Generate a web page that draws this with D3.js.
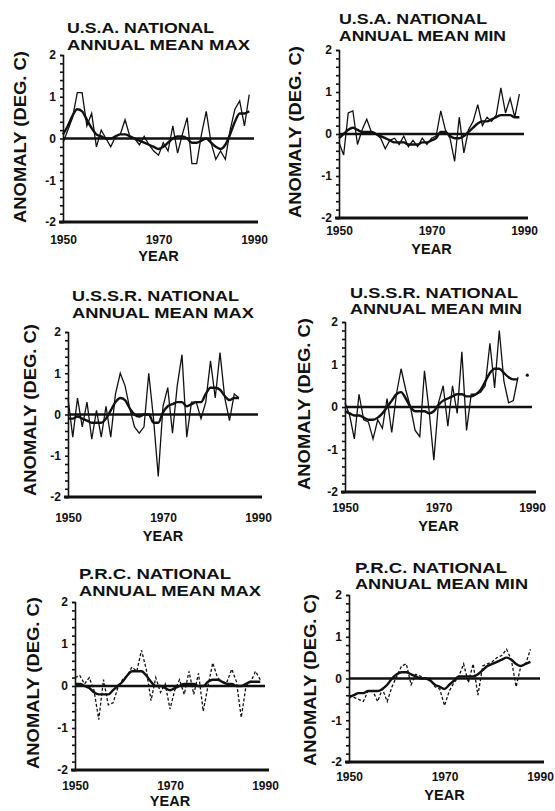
<!DOCTYPE html>
<html><head><meta charset="utf-8">
<script src="https://cdn.jsdelivr.net/npm/d3@7"></script>
<style>
body{margin:0;background:#fff;}
svg text{font-family:"Liberation Sans",Arial,sans-serif;fill:#111;}
</style></head>
<body><svg id="c" width="555" height="811"></svg>
<script>
const years = [1950,1951,1952,1953,1954,1955,1956,1957,1958,1959,1960,1961,1962,1963,1964,1965,1966,1967,1968,1969,1970,1971,1972,1973,1974,1975,1976,1977,1978,1979,1980,1981,1982,1983,1984,1985,1986,1987,1988,1989];
const yTicks = [-2,-1,0,1,2];
const xTicks = [1950,1970,1990];
const titles = [
  ["U.S.A. NATIONAL","ANNUAL MEAN MAX"],
  ["U.S.A. NATIONAL","ANNUAL MEAN MIN"],
  ["U.S.S.R. NATIONAL","ANNUAL MEAN MAX"],
  ["U.S.S.R. NATIONAL","ANNUAL MEAN MIN"],
  ["P.R.C. NATIONAL","ANNUAL MEAN MAX"],
  ["P.R.C. NATIONAL","ANNUAL MEAN MIN"]
];
const usaMaxRaw = [-0.1,0.2,0.5,1.1,1.1,0.3,0.6,-0.2,0.2,0.0,-0.2,0.05,0.1,0.45,0.05,0.0,-0.15,0.05,-0.15,-0.3,-0.4,-0.1,-0.3,0.3,-0.35,0.1,0.5,-0.6,-0.6,0.1,0.65,-0.1,-0.5,-0.3,-0.5,0.2,0.7,0.9,0.3,1.05];
const usaMaxSmooth = [0.1,0.3,0.55,0.7,0.65,0.45,0.25,0.1,0.05,0.0,0.0,0.05,0.1,0.1,0.05,0.0,-0.05,-0.1,-0.15,-0.2,-0.25,-0.2,-0.1,0.0,0.05,0.05,0.0,-0.1,-0.1,-0.05,0.0,-0.1,-0.2,-0.25,-0.15,0.1,0.4,0.6,0.6,0.65];
const usaMinRaw = [-0.2,-0.5,0.5,0.55,-0.25,0.1,0.35,0.05,0.0,-0.1,-0.35,-0.15,-0.1,-0.25,-0.05,-0.3,-0.15,-0.3,-0.1,-0.25,-0.1,-0.05,0.55,0.1,-0.1,-0.65,0.4,-0.45,0.1,0.3,0.7,0.2,0.4,0.3,0.45,1.1,0.5,0.85,0.4,0.95];
const usaMinSmooth = [-0.1,0.0,0.1,0.15,0.1,0.05,0.05,0.05,0.0,-0.05,-0.1,-0.15,-0.2,-0.2,-0.2,-0.25,-0.25,-0.25,-0.2,-0.2,-0.15,-0.1,0.05,0.05,-0.05,-0.1,-0.1,-0.05,0.05,0.15,0.25,0.3,0.3,0.35,0.4,0.45,0.45,0.45,0.4,0.4];
const ussrMaxRaw = [0.4,-0.55,0.4,-0.3,0.3,-0.6,0.1,-0.55,0.2,-0.55,0.5,1.0,0.7,0.15,-0.3,-0.45,-0.3,1.0,-0.1,-1.5,0.2,0.65,-0.45,0.7,1.45,-0.55,0.3,0.3,-0.1,0.3,1.3,0.4,1.5,0.4,-0.15,0.5,0.4,null,null,null];
const ussrMaxSmooth = [-0.1,-0.1,-0.05,-0.1,-0.15,-0.2,-0.2,-0.2,-0.1,0.1,0.3,0.4,0.35,0.15,0.0,-0.05,0.0,0.0,-0.2,-0.2,0.05,0.2,0.25,0.3,0.3,0.2,0.25,0.3,0.3,0.5,0.65,0.65,0.6,0.45,0.35,0.4,0.4,null,null,null];
const ussrMinRaw = [0.1,-0.2,-0.75,0.3,-0.3,-0.35,-0.75,-0.3,-0.5,0.2,-0.6,0.3,0.9,0.4,0.0,-0.55,-0.7,0.85,-0.1,-1.25,0.1,0.5,-0.45,0.5,-0.15,1.3,-0.55,0.3,0.3,0.35,0.5,1.5,0.45,1.8,0.6,0.1,0.15,0.7,null,0.75];
const ussrMinSmooth = [-0.1,-0.15,-0.2,-0.2,-0.25,-0.3,-0.3,-0.25,-0.15,0.0,0.15,0.3,0.35,0.2,0.0,-0.1,-0.1,-0.1,-0.15,-0.1,0.05,0.15,0.2,0.25,0.3,0.3,0.25,0.25,0.3,0.4,0.6,0.8,0.9,0.9,0.8,0.7,0.65,0.65,null,null];
const prcMaxRaw = [0.2,0.25,0.05,0.2,-0.1,-0.8,0.15,-0.45,-0.4,-0.05,0.15,0.25,0.45,0.35,0.85,0.4,-0.35,0.2,-0.15,0.05,-0.55,-0.1,0.15,-0.2,0.35,-0.2,0.3,-0.6,0.0,0.55,0.2,0.1,0.1,0.4,0.1,-0.75,0.0,0.1,0.35,0.15];
const prcMaxSmooth = [0.05,0.05,0.0,-0.05,-0.15,-0.2,-0.2,-0.2,-0.1,0.0,0.1,0.25,0.35,0.35,0.35,0.25,0.1,0.0,0.0,-0.05,-0.1,-0.05,0.0,0.05,0.05,0.05,0.0,0.0,0.1,0.15,0.15,0.1,0.05,0.05,0.0,0.0,0.05,0.1,0.1,0.1];
const prcMinRaw = [-0.4,-0.45,-0.5,-0.55,-0.3,-0.3,-0.55,-0.25,-0.55,-0.2,0.05,0.3,0.35,-0.15,0.1,0.05,0.0,0.0,-0.2,-0.25,-0.65,-0.3,-0.1,0.05,0.35,-0.1,0.35,-0.4,0.3,0.35,0.4,0.5,0.55,0.7,0.45,-0.2,0.3,0.35,0.7,null];
const prcMinSmooth = [-0.45,-0.4,-0.35,-0.35,-0.3,-0.3,-0.3,-0.25,-0.15,0.0,0.1,0.15,0.15,0.1,0.05,0.0,0.0,-0.05,-0.15,-0.2,-0.25,-0.15,-0.05,0.05,0.05,0.05,0.05,0.1,0.2,0.3,0.35,0.4,0.45,0.5,0.45,0.35,0.3,0.35,0.4,null];

const rawSeries = [usaMaxRaw,usaMinRaw,ussrMaxRaw,ussrMinRaw,prcMaxRaw,prcMinRaw];
const smoothSeries = [usaMaxSmooth,usaMinSmooth,ussrMaxSmooth,ussrMinSmooth,prcMaxSmooth,prcMinSmooth];

// layout (pixels)
const layout = [
  {x0:63,x1:254,yt:55,yb:222,tx:67,ty:[27,44],tw:[147,183],lx:20,ly:137,xl:239,yl:256,dash:null},
  {x0:339,x1:524,yt:50,yb:218,tx:339,ty:[18,35],tw:[148,167],lx:295,ly:132,xl:230,yl:249,dash:null},
  {x0:68,x1:258,yt:332,yb:497,tx:72,ty:[295,312],tw:[167,182],lx:30,ly:410,xl:517,yl:536,dash:null},
  {x0:345,x1:532,yt:322,yb:492,tx:350,ty:[292,308],tw:[168,172],lx:304,ly:404,xl:507,yl:526,dash:null},
  {x0:75,x1:265,yt:602,yb:770,tx:79,ty:[573,590],tw:[152,182],lx:33,ly:683,xl:785,yl:801,dash:"3,2"},
  {x0:349,x1:540,yt:595,yb:762,tx:355,ty:[567,583],tw:[152,173],lx:310,ly:680,xl:776,yl:795,dash:"3,2"}
];

const svg = d3.select("#c");
layout.forEach((L,i)=>{
  const g = svg.append("g");
  const x = d3.scaleLinear().domain([1950,1990]).range([L.x0,L.x1]);
  const y = d3.scaleLinear().domain([-2,2]).range([L.yb,L.yt]);

  // minor ticks on y axis
  const minor = g.append("g").attr("transform",`translate(${L.x0},0)`)
    .call(d3.axisLeft(y).tickValues(d3.range(-2,2.001,0.2)).tickSize(3).tickFormat(""));
  minor.selectAll("line").attr("stroke","#111").attr("stroke-width",1.6);
  minor.select(".domain").attr("stroke","#111").attr("stroke-width",1.6);

  // major labels
  const yAx = g.append("g").attr("transform",`translate(${L.x0},0)`)
    .call(d3.axisLeft(y).tickValues(yTicks).tickSize(0).tickPadding(7).tickFormat(d=>String(d)));
  yAx.select(".domain").remove();
  yAx.selectAll("text").attr("font-size",12).attr("font-weight","bold").attr("fill","#111");

  // bottom axis at -2
  g.append("line").attr("x1",L.x0-4).attr("x2",L.x1+4).attr("y1",y(-2)).attr("y2",y(-2))
    .attr("stroke","#111").attr("stroke-width",3);
  const xAx = g.append("g").attr("transform",`translate(0,${y(-2)})`)
    .call(d3.axisBottom(x).tickValues(xTicks).tickSize(0).tickPadding(L.xl-y(-2)-4).tickFormat(d3.format("d")));
  xAx.select(".domain").remove();
  xAx.selectAll("text").attr("font-size",12).attr("font-weight","bold").attr("fill","#111");

  // zero line
  g.append("line").attr("x1",L.x0).attr("x2",L.x1).attr("y1",y(0)).attr("y2",y(0))
    .attr("stroke","#111").attr("stroke-width",2.6);

  // raw series
  const data = years.map((yr,k)=>({yr, v: rawSeries[i][k]}));
  const line = d3.line().defined(d=>d.v!==null).x(d=>x(d.yr)).y(d=>y(d.v));
  g.append("path").datum(data).attr("d",line).attr("fill","none")
    .attr("stroke","#111").attr("stroke-width",1.3).attr("stroke-linejoin","miter")
    .attr("stroke-dasharray",L.dash);
  // isolated points
  data.forEach((d,k)=>{
    if(d.v!==null && (k===0||data[k-1].v===null) && (k===data.length-1||data[k+1].v===null)){
      g.append("circle").attr("cx",x(d.yr)).attr("cy",y(d.v)).attr("r",1.6).attr("fill","#111");
    }
  });
  // smoothed series
  const sdata = years.map((yr,k)=>({yr, v: smoothSeries[i][k]}));
  g.append("path").datum(sdata).attr("d",d3.line().defined(d=>d.v!==null).curve(d3.curveMonotoneX).x(d=>x(d.yr)).y(d=>y(d.v)))
    .attr("fill","none").attr("stroke","#111").attr("stroke-width",2.4);

  // titles
  titles[i].forEach((t,j)=>{
    g.append("text").attr("x",L.tx).attr("y",L.ty[j]).attr("dy","0.36em")
      .attr("font-size",15.5).attr("font-weight","bold")
      .attr("textLength",L.tw[j]).attr("lengthAdjust","spacingAndGlyphs").text(t);
  });
  // y label
  g.append("text").attr("transform",`translate(${L.lx},${L.ly}) rotate(-90)`)
    .attr("text-anchor","middle").attr("dy","0.36em").attr("font-size",16.5).attr("font-weight","bold")
    .attr("textLength",172).attr("lengthAdjust","spacingAndGlyphs").text("ANOMALY (DEG. C)");
  // x label
  g.append("text").attr("x",x(1970)).attr("y",L.yl).attr("dy","0.36em").attr("text-anchor","middle")
    .attr("font-size",14.5).attr("font-weight","bold").text("YEAR");
});
</script></body></html>
